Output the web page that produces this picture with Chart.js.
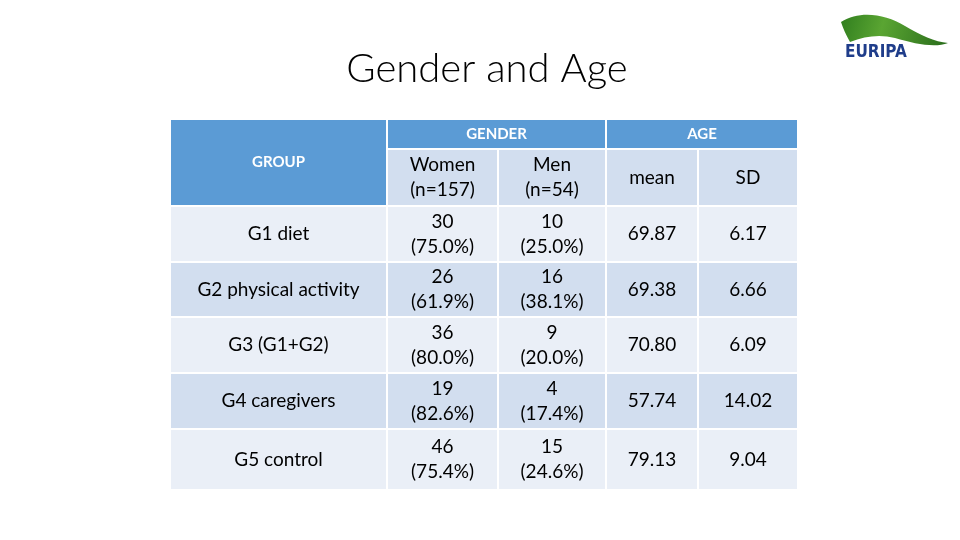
<!DOCTYPE html>
<html>
<head>
<meta charset="utf-8">
<script src="https://cdn.jsdelivr.net/npm/chart.js@4.4.0/dist/chart.umd.min.js"></script>
<style>
  html, body { margin: 0; padding: 0; background: #fff; }
  #wrap { position: relative; width: 960px; height: 540px; }
</style>
</head>
<body>
<div id="wrap"><canvas id="myChart"></canvas></div>
<script>
// table content
const titleText = "Gender and Age";
const groupHeader = "GROUP";
const spanHeaders = ["GENDER", "AGE"];
const subHeaders = [["Women", "(n=157)"], ["Men", "(n=54)"], ["mean"], ["SD"]];
const groups = ["G1 diet", "G2 physical activity", "G3 (G1+G2)", "G4 caregivers", "G5 control"];
const women = [30, 26, 36, 19, 46];
const womenPct = [75.0, 61.9, 80.0, 82.6, 75.4];
const men = [10, 16, 9, 4, 15];
const menPct = [25.0, 38.1, 20.0, 17.4, 24.6];
const ageMean = [69.87, 69.38, 70.80, 57.74, 79.13];
const ageSD = [6.17, 6.66, 6.09, 14.02, 9.04];

// layout (scale units == page pixels)
const colL = [171, 388, 499, 607, 699];
const colR = [386, 497, 605, 697, 797];
const headTop = 120, headMid = 148, subTop = 150, subBot = 205;
const rowTop = [207, 263, 318, 374, 430];
const rowBot = [261, 316, 372, 428, 489];

const BLUE = "#5b9bd5", DARK = "#d2deef", LIGHT = "#eaeff7";
const FONT = "Lato, 'Open Sans', sans-serif";

const tablePlugin = {
  id: "table",
  afterDatasetsDraw(chart) {
    const ctx = chart.ctx;
    const x = chart.scales.x, y = chart.scales.y;
    const rect = (x0, y0, x1, y1, c) => {
      const px0 = x.getPixelForValue(x0), py0 = y.getPixelForValue(y0);
      ctx.fillStyle = c;
      ctx.fillRect(px0, py0, x.getPixelForValue(x1) - px0, y.getPixelForValue(y1) - py0);
    };
    const text = (lines, x0, x1, y0, y1, font, color) => {
      ctx.font = font;
      ctx.fillStyle = color;
      ctx.textAlign = "center";
      ctx.textBaseline = "middle";
      const cx = x.getPixelForValue((x0 + x1) / 2);
      const cy = y.getPixelForValue((y0 + y1) / 2);
      const lh = 25;
      lines.forEach((s, i) => {
        ctx.fillText(s, cx, cy + (i - (lines.length - 1) / 2) * lh);
      });
    };
    ctx.save();
    // title
    ctx.font = "300 40px " + FONT;
    ctx.fillStyle = "#000";
    ctx.textAlign = "center";
    ctx.textBaseline = "alphabetic";
    ctx.fillText(titleText, x.getPixelForValue(487), y.getPixelForValue(82));

    // header cells
    const bold = "bold 15px " + FONT, reg = "19px " + FONT;
    rect(colL[0], headTop, colR[0], subBot, BLUE);
    text([groupHeader], colL[0], colR[0], headTop, subBot, bold, "#fff");
    rect(colL[1], headTop, colR[2], headMid, BLUE);
    text([spanHeaders[0]], colL[1], colR[2], headTop, headMid, bold, "#fff");
    rect(colL[3], headTop, colR[4], headMid, BLUE);
    text([spanHeaders[1]], colL[3], colR[4], headTop, headMid, bold, "#fff");
    subHeaders.forEach((h, i) => {
      rect(colL[i + 1], subTop, colR[i + 1], subBot, DARK);
      text(h, colL[i + 1], colR[i + 1], subTop, subBot, reg, "#000");
    });

    // body rows
    groups.forEach((g, r) => {
      const bg = r % 2 === 0 ? LIGHT : DARK;
      const cells = [
        [g],
        [String(women[r]), "(" + womenPct[r].toFixed(1) + "%)"],
        [String(men[r]), "(" + menPct[r].toFixed(1) + "%)"],
        [ageMean[r].toFixed(2)],
        [ageSD[r].toFixed(2)]
      ];
      cells.forEach((c, i) => {
        rect(colL[i], rowTop[r], colR[i], rowBot[r], bg);
        text(c, colL[i], colR[i], rowTop[r], rowBot[r], reg, "#000");
      });
    });

    // EURIPA logo
    const px = v => x.getPixelForValue(v), py = v => y.getPixelForValue(v);
    const grd = ctx.createLinearGradient(px(840), py(15), px(945), py(45));
    grd.addColorStop(0, "#2f7d1e");
    grd.addColorStop(0.4, "#5aa532");
    grd.addColorStop(1, "#2b6e1c");
    ctx.fillStyle = grd;
    ctx.beginPath();
    ctx.moveTo(px(841), py(22));
    ctx.bezierCurveTo(px(860), py(10), px(885), py(14), px(905), py(26));
    ctx.bezierCurveTo(px(920), py(35), px(935), py(42), px(948), py(43));
    ctx.bezierCurveTo(px(935), py(48), px(915), py(44), px(895), py(38));
    ctx.bezierCurveTo(px(880), py(34), px(865), py(36), px(850), py(42));
    ctx.bezierCurveTo(px(846), py(35), px(843), py(28), px(841), py(22));
    ctx.fill();
    ctx.font = "bold 17px 'DejaVu Sans Condensed', sans-serif";
    ctx.fillStyle = "#1f3d8a";
    ctx.textAlign = "left";
    ctx.textBaseline = "alphabetic";
    ctx.fillText("EURIPA", px(845), py(57));
    ctx.restore();
  }
};

new Chart(document.getElementById("myChart"), {
  type: "scatter",
  data: { datasets: [{ data: [] }] },
  options: {
    responsive: true,
    maintainAspectRatio: false,
    animation: false,
    layout: { padding: 0 },
    plugins: { legend: { display: false }, tooltip: { enabled: false }, title: { display: false } },
    scales: {
      x: { type: "linear", min: 0, max: 960, offset: false, display: false },
      y: { type: "linear", min: 0, max: 540, reverse: true, offset: false, display: false }
    }
  },
  plugins: [tablePlugin]
});
</script>
</body>
</html>
